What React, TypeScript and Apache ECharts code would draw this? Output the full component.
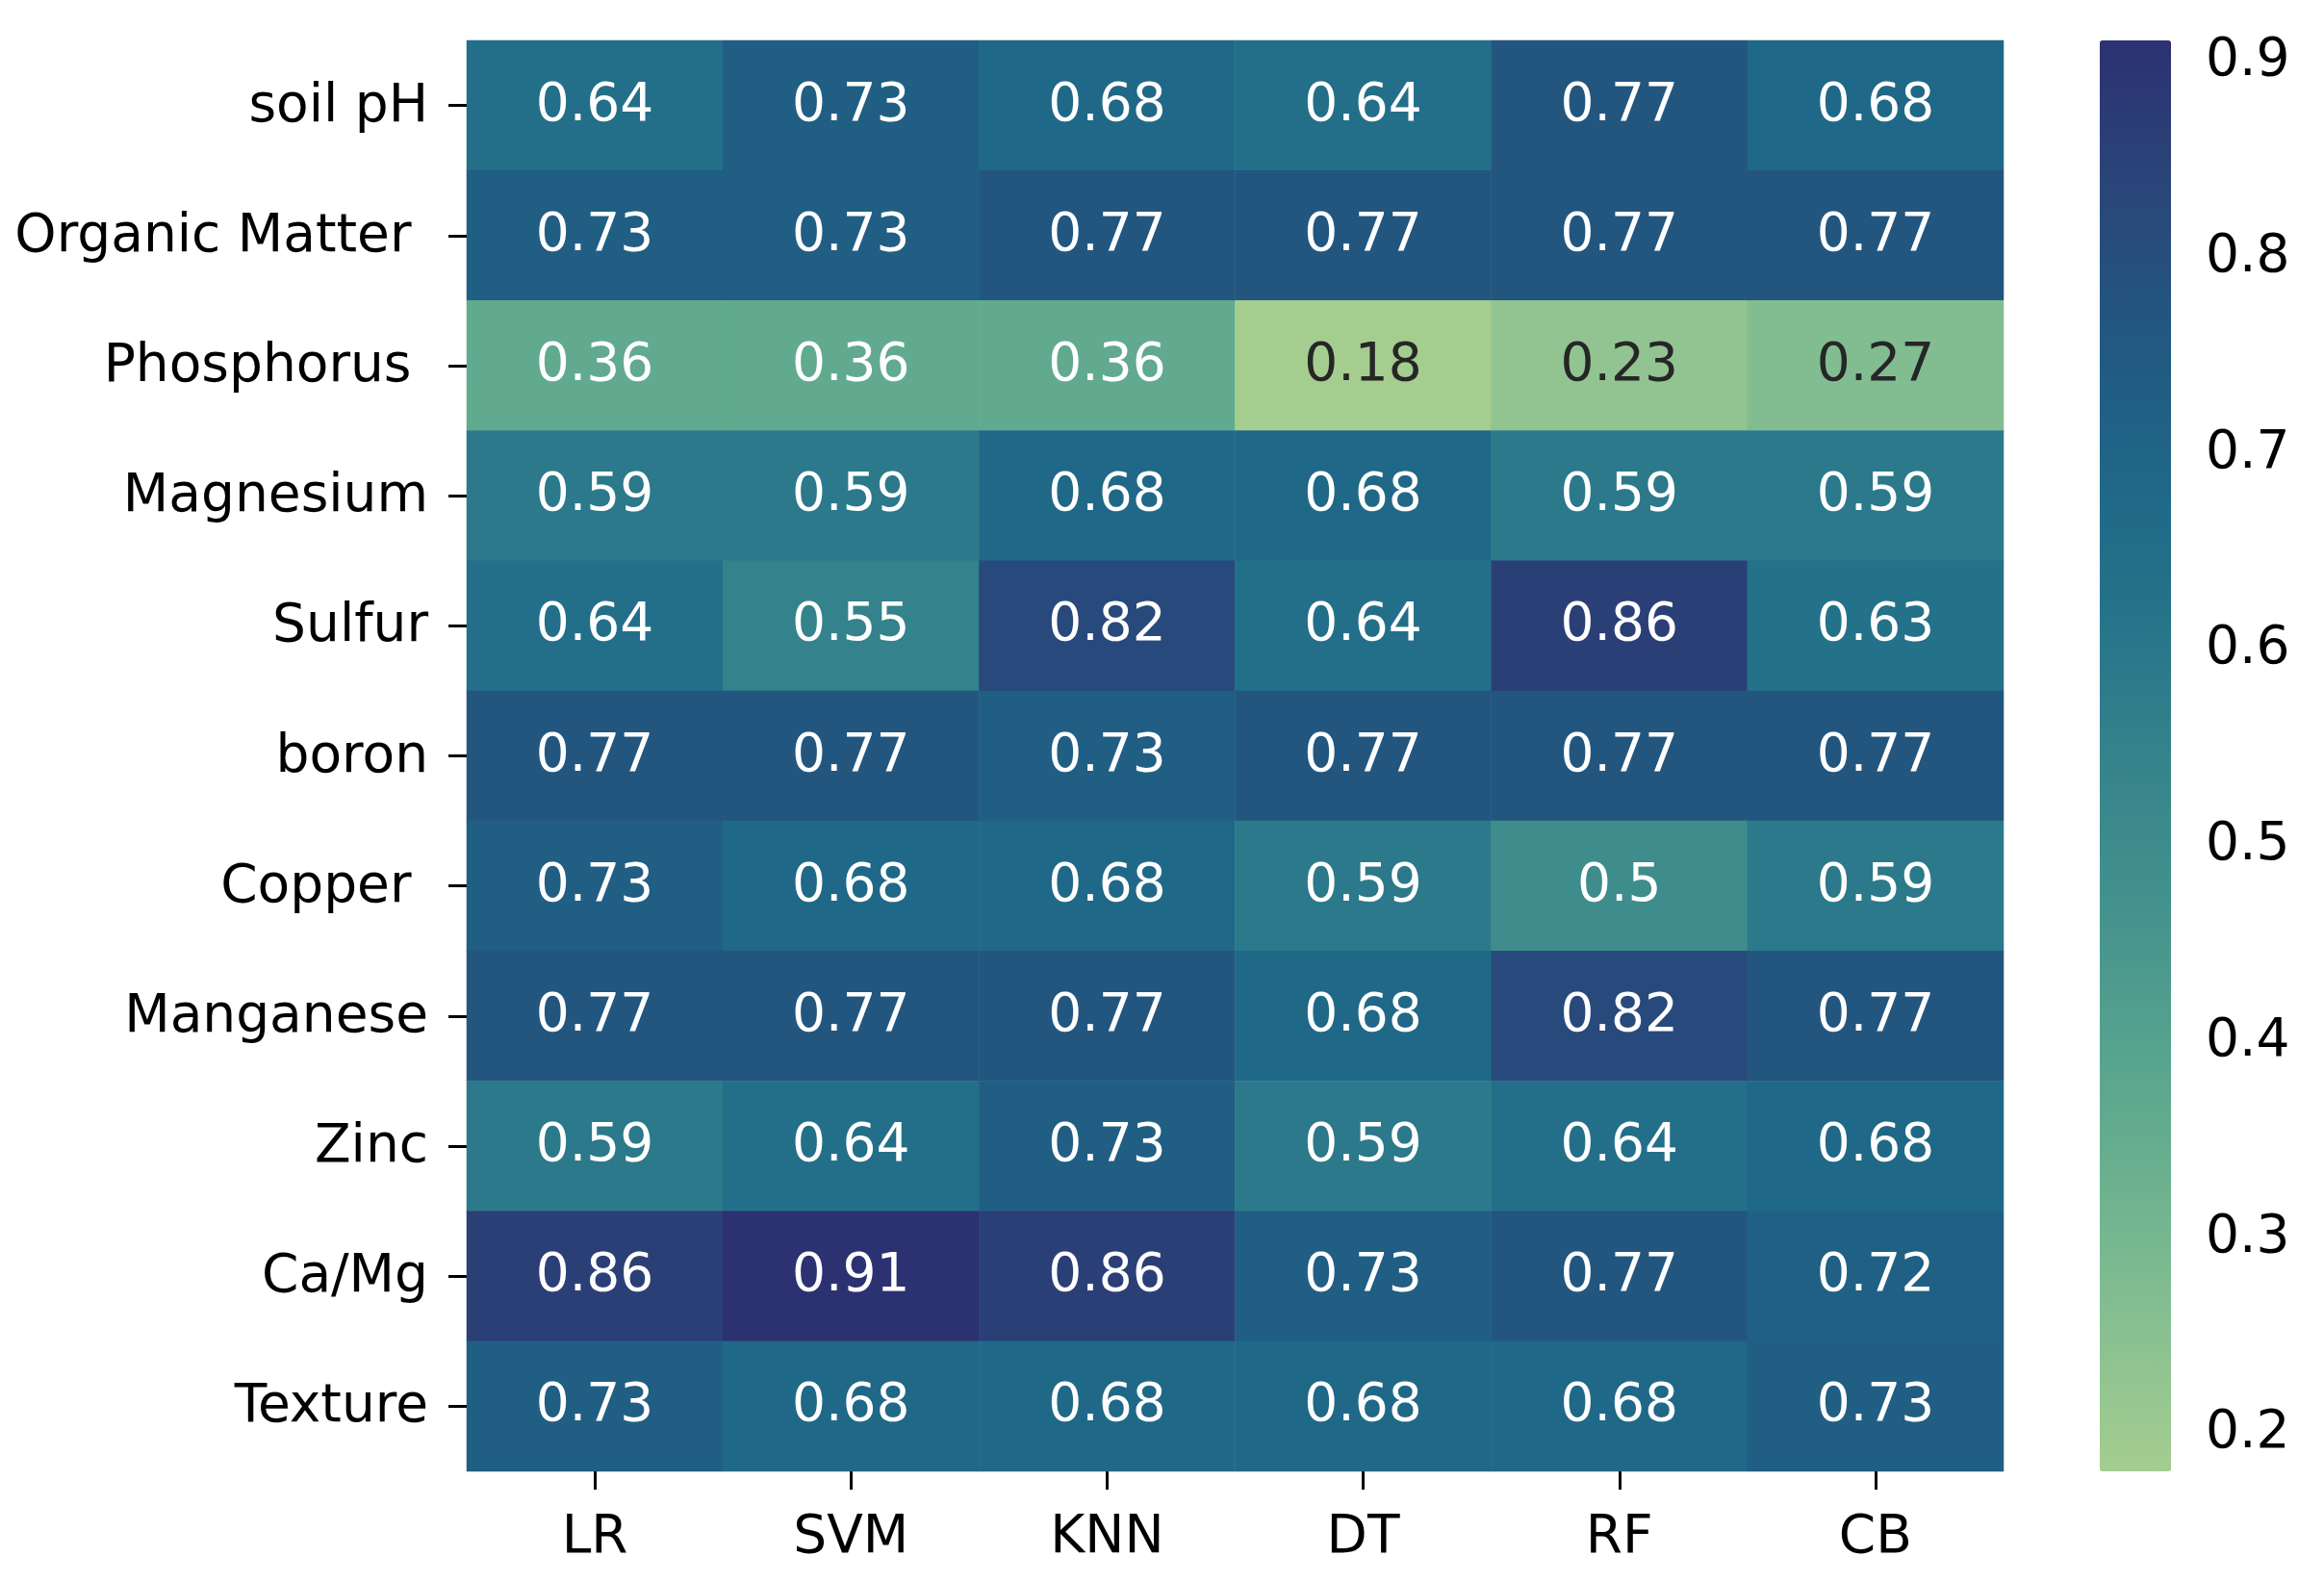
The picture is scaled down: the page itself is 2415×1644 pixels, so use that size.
import React, { useEffect, useRef } from "react";
import * as echarts from "echarts";

const models = ["LR", "SVM", "KNN", "DT", "RF", "CB"];
const features = [
  "soil pH",
  "Organic Matter ",
  "Phosphorus ",
  "Magnesium",
  "Sulfur",
  "boron",
  "Copper ",
  "Manganese",
  "Zinc",
  "Ca/Mg",
  "Texture",
];

// one array per model, values ordered as in `features`
const LR = [0.64, 0.73, 0.36, 0.59, 0.64, 0.77, 0.73, 0.77, 0.59, 0.86, 0.73];
const SVM = [0.73, 0.73, 0.36, 0.59, 0.55, 0.77, 0.68, 0.77, 0.64, 0.91, 0.68];
const KNN = [0.68, 0.77, 0.36, 0.68, 0.82, 0.73, 0.68, 0.77, 0.73, 0.86, 0.68];
const DT = [0.64, 0.77, 0.18, 0.68, 0.64, 0.77, 0.59, 0.68, 0.59, 0.73, 0.68];
const RF = [0.77, 0.77, 0.23, 0.59, 0.86, 0.77, 0.5, 0.82, 0.64, 0.77, 0.68];
const CB = [0.68, 0.77, 0.27, 0.59, 0.63, 0.77, 0.59, 0.77, 0.68, 0.72, 0.73];
const modelValues = [LR, SVM, KNN, DT, RF, CB];

const colorbarTicks = [0.2, 0.3, 0.4, 0.5, 0.6, 0.7, 0.8, 0.9];
const vMin = 0.18;
const vMax = 0.91;

// seaborn "crest" colormap, sampled from light to dark
const crest = [
  "#a5cd90",
  "#88c091",
  "#6cb18f",
  "#55a28e",
  "#43918d",
  "#35838b",
  "#25738a",
  "#1f6687",
  "#225780",
  "#2a4579",
  "#2c3172",
];

const FONT = "DejaVu Sans";

export default function App() {
  const ref = useRef<HTMLDivElement>(null);

  useEffect(() => {
    if (!ref.current) return;
    const chart = echarts.init(ref.current, null, { renderer: "svg" });

    const data: any[] = [];
    modelValues.forEach((vals, xi) => {
      vals.forEach((v, yi) => {
        data.push({
          value: [xi, yi, v],
          label: { color: v < 0.3 ? "#262626" : "#ffffff" },
        });
      });
    });

    const richLabel = {
      t: {
        fontSize: 55,
        fontFamily: FONT,
        color: "#000",
        padding: [0, 0, 6, 0],
      },
    };

    const option: any = {
      animation: false,
      backgroundColor: "#ffffff",
      grid: [
        { left: 485, top: 42, width: 1597, height: 1487 },
        { left: 2182, top: 42, width: 74, height: 1487 },
      ],
      xAxis: [
        {
          type: "category",
          gridIndex: 0,
          data: models,
          position: "bottom",
          axisLine: { show: false },
          axisTick: {
            show: true,
            alignWithLabel: true,
            length: 19,
            lineStyle: { color: "#000", width: 3 },
          },
          axisLabel: { fontSize: 55, fontFamily: FONT, color: "#000", margin: 37 },
          splitLine: { show: false },
        },
        { type: "value", gridIndex: 1, show: false, min: 0, max: 1 },
      ],
      yAxis: [
        {
          type: "category",
          gridIndex: 0,
          data: features,
          inverse: true,
          axisLine: { show: false },
          axisTick: {
            show: true,
            alignWithLabel: true,
            length: 19,
            lineStyle: { color: "#000", width: 3 },
          },
          axisLabel: {
            fontSize: 55,
            fontFamily: FONT,
            color: "#000",
            margin: 40,
            formatter: (v: string) => "{t|" + v + "}",
            rich: richLabel,
          },
          splitLine: { show: false },
        },
        {
          type: "value",
          gridIndex: 1,
          position: "right",
          min: vMin,
          max: vMax,
          axisLine: { show: false },
          splitLine: { show: false },
          axisTick: {
            show: true,
            length: 19,
            customValues: colorbarTicks,
            lineStyle: { color: "#000", width: 3 },
          },
          axisLabel: {
            customValues: colorbarTicks,
            fontSize: 55,
            fontFamily: FONT,
            color: "#000",
            margin: 36,
            formatter: (v: number) => "{t|" + v.toFixed(1) + "}",
            rich: richLabel,
          },
        },
      ],
      visualMap: {
        type: "continuous",
        min: vMin,
        max: vMax,
        calculable: false,
        seriesIndex: 0,
        orient: "vertical",
        left: 2182,
        top: 42,
        itemWidth: 74,
        itemHeight: 1487,
        padding: 0,
        itemGap: 0,
        text: null,
        showLabel: false,
        inRange: { color: crest },
      },
      series: [
        {
          type: "heatmap",
          xAxisIndex: 0,
          yAxisIndex: 0,
          data,
          itemStyle: { borderWidth: 0 },
          label: {
            show: true,
            fontSize: 55,
            fontFamily: FONT,
            offset: [0, -4],
            formatter: (p: any) => String(Number(p.value[2].toFixed(2))),
          },
          emphasis: { disabled: true },
        },
      ],
    };

    chart.setOption(option);
    return () => chart.dispose();
  }, []);

  return (
    <div
      ref={ref}
      style={{ position: "absolute", left: 0, top: 0, width: 2415, height: 1644, background: "#fff" }}
    />
  );
}
